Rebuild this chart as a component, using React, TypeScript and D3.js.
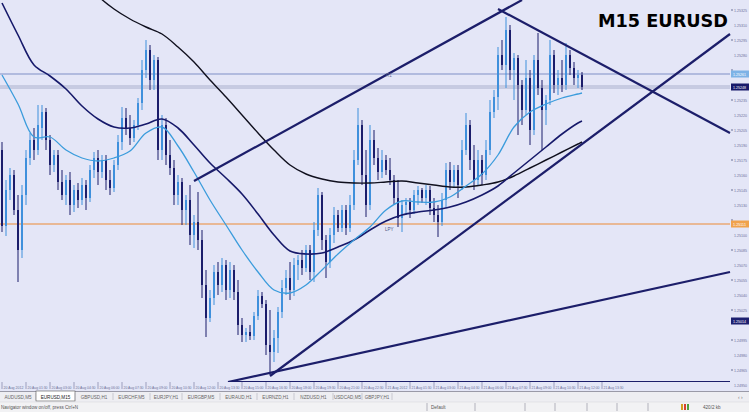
import React from "react";
import * as d3 from "d3";

// ---- EURUSD M15 candles (prices) ----
const opens = [1.25185,1.25109,1.25145,1.25160,1.25125,1.25085,1.25140,1.25177,1.25195,1.25185,1.25207,1.25223,1.25195,1.25170,1.25180,1.25153,1.25140,1.25155,1.25130,1.25145,1.25135,1.25150,1.25137,1.25165,1.25177,
1.25163,1.25175,1.25155,1.25147,1.25170,1.25193,1.25217,1.25207,1.25197,1.25210,1.25232,1.25265,1.25285,1.25255,1.25275,1.25185,1.25210,1.25180,1.25167,1.25140,1.25153,1.25125,1.25135,1.25100,1.25113,
1.25095,1.25050,1.25017,1.25037,1.25063,1.25050,1.25070,1.25045,1.25065,1.25043,1.25010,1.25000,1.25003,1.24999,1.25019,1.25039,1.25031,1.24990,1.24983,1.24997,1.25023,1.25047,1.25057,1.25045,1.25070,
1.25075,1.25067,1.25085,1.25063,1.25105,1.25140,1.25095,1.25073,1.25100,1.25120,1.25107,1.25125,1.25107,1.25130,1.25175,1.25210,1.25160,1.25130,1.25195,1.25177,1.25163,1.25175,1.25165,1.25155,1.25137,
1.25117,1.25130,1.25133,1.25125,1.25140,1.25145,1.25137,1.25145,1.25127,1.25120,1.25113,1.25135,1.25165,1.25153,1.25165,1.25150,1.25185,1.25210,1.25175,1.25155,1.25175,1.25160,1.25185,1.25223,1.25238,
1.25280,1.25270,1.25305,1.25265,1.25277,1.25250,1.25225,1.25257,1.25205,1.25275,1.25247,1.25225,1.25235,1.25280,1.25250,1.25257,1.25250,1.25280,1.25267,1.25257,1.25260];
const highs = [1.25193,1.25155,1.25167,1.25165,1.25140,1.25150,1.25185,1.25202,1.25207,1.25230,1.25230,1.25227,1.25200,1.25185,1.25185,1.25165,1.25160,1.25163,1.25150,1.25152,1.25157,1.25155,1.25170,1.25183,1.25185,
1.25180,1.25180,1.25165,1.25175,1.25200,1.25228,1.25227,1.25220,1.25215,1.25237,1.25275,1.25295,1.25290,1.25280,1.25278,1.25220,1.25217,1.25195,1.25175,1.25160,1.25157,1.25140,1.25150,1.25120,1.25143,
1.25105,1.25065,1.25045,1.25070,1.25073,1.25077,1.25075,1.25073,1.25070,1.25055,1.25017,1.25007,1.25010,1.25023,1.25045,1.25043,1.25035,1.25025,1.25005,1.25028,1.25055,1.25065,1.25073,1.25077,1.25080,
1.25085,1.25090,1.25090,1.25113,1.25147,1.25143,1.25100,1.25107,1.25128,1.25125,1.25130,1.25130,1.25140,1.25185,1.25227,1.25215,1.25185,1.25210,1.25205,1.25187,1.25185,1.25180,1.25177,1.25160,1.25155,
1.25135,1.25137,1.25137,1.25145,1.25149,1.25147,1.25150,1.25149,1.25137,1.25130,1.25142,1.25172,1.25173,1.25170,1.25170,1.25195,1.25222,1.25215,1.25190,1.25185,1.25180,1.25195,1.25235,1.25245,1.25288,
1.25295,1.25318,1.25310,1.25282,1.25280,1.25255,1.25275,1.25265,1.25280,1.25302,1.25255,1.25240,1.25295,1.25285,1.25265,1.25275,1.25292,1.25285,1.25273,1.25265,1.25263];
const lows = [1.25103,1.25099,1.25135,1.25120,1.25053,1.25077,1.25130,1.25170,1.25175,1.25180,1.25195,1.25185,1.25160,1.25163,1.25145,1.25135,1.25130,1.25120,1.25123,1.25127,1.25130,1.25125,1.25133,1.25157,1.25150,
1.25157,1.25145,1.25140,1.25143,1.25165,1.25185,1.25200,1.25190,1.25193,1.25205,1.25225,1.25257,1.25245,1.25245,1.25175,1.25175,1.25170,1.25160,1.25130,1.25130,1.25110,1.25110,1.25090,1.25087,1.25085,
1.25037,1.24998,1.25013,1.25030,1.25040,1.25043,1.25035,1.25037,1.25035,1.25000,1.24993,1.24993,1.24995,1.24995,1.25015,1.25027,1.24980,1.24960,1.24973,1.24982,1.25017,1.25040,1.25035,1.25039,1.25055,
1.25060,1.25063,1.25055,1.25053,1.25099,1.25085,1.25057,1.25067,1.25092,1.25103,1.25103,1.25100,1.25103,1.25125,1.25170,1.25150,1.25118,1.25125,1.25170,1.25155,1.25157,1.25160,1.25150,1.25130,1.25108,
1.25103,1.25120,1.25117,1.25121,1.25130,1.25132,1.25130,1.25120,1.25113,1.25098,1.25109,1.25127,1.25145,1.25147,1.25137,1.25145,1.25180,1.25165,1.25145,1.25150,1.25150,1.25155,1.25180,1.25217,1.25225,
1.25265,1.25247,1.25255,1.25235,1.25200,1.25210,1.25220,1.25190,1.25200,1.25240,1.25185,1.25210,1.25230,1.25242,1.25240,1.25243,1.25245,1.25260,1.25250,1.25247,1.25245];
const closes = [1.25109,1.25145,1.25160,1.25125,1.25085,1.25140,1.25177,1.25195,1.25185,1.25210,1.25223,1.25195,1.25170,1.25180,1.25153,1.25140,1.25155,1.25130,1.25145,1.25135,1.25150,1.25137,1.25165,1.25177,1.25163,
1.25175,1.25155,1.25147,1.25170,1.25193,1.25217,1.25207,1.25197,1.25210,1.25232,1.25265,1.25285,1.25255,1.25275,1.25185,1.25210,1.25180,1.25167,1.25140,1.25153,1.25125,1.25135,1.25100,1.25113,1.25095,
1.25050,1.25017,1.25037,1.25063,1.25050,1.25070,1.25045,1.25065,1.25043,1.25010,1.25000,1.25003,1.24999,1.25019,1.25039,1.25031,1.24990,1.24983,1.24997,1.25023,1.25047,1.25057,1.25045,1.25070,1.25075,
1.25067,1.25085,1.25063,1.25105,1.25140,1.25095,1.25073,1.25100,1.25120,1.25107,1.25125,1.25107,1.25130,1.25175,1.25210,1.25160,1.25130,1.25195,1.25177,1.25163,1.25175,1.25165,1.25155,1.25137,1.25117,
1.25130,1.25133,1.25125,1.25140,1.25145,1.25137,1.25145,1.25127,1.25120,1.25113,1.25135,1.25165,1.25153,1.25165,1.25150,1.25185,1.25210,1.25175,1.25155,1.25175,1.25160,1.25185,1.25223,1.25238,1.25280,
1.25270,1.25305,1.25265,1.25277,1.25250,1.25225,1.25257,1.25205,1.25275,1.25247,1.25225,1.25235,1.25280,1.25250,1.25257,1.25250,1.25280,1.25267,1.25257,1.25260,1.25248];

// ---- moving averages (bar index, price) ----
const maIdx = [0,4,8,12,16,20,24,28,32,36,40,44,48,52,56,60,64,68,72,76,80,84,88,92,96,100,104,108,112,116,120,124,128,132,136,140,144,145];
const maFast = [1.25260,1.25231,1.25198,1.25198,1.25185,1.25177,1.25174,1.25177,1.25184,1.25202,1.25208,1.25189,1.25163,1.25135,1.25110,1.25085,1.25063,1.25045,1.25042,1.25050,1.25065,1.25081,1.25095,1.25108,1.25125,1.25134,1.25133,1.25133,1.25138,1.25149,1.25161,1.25180,1.25208,1.25223,1.25231,1.25237,1.25241,1.25242];
const maMid = [1.25332,1.25300,1.25270,1.25259,1.25246,1.25229,1.25216,1.25208,1.25207,1.25211,1.25216,1.25207,1.25190,1.25172,1.25157,1.25141,1.25121,1.25100,1.25084,1.25081,1.25082,1.25088,1.25095,1.25105,1.25114,1.25120,1.25123,1.25125,1.25128,1.25133,1.25140,1.25149,1.25162,1.25175,1.25188,1.25201,1.25212,1.25214];
const slowIdx = [20,24,28,32,36,40,44,48,52,56,60,64,68,72,76,80,84,88,92,96,100,104,108,112,116,120,124,128,132,136,140,144,145];
const maSlow = [1.25357,1.25339,1.25326,1.25316,1.25308,1.25301,1.25288,1.25273,1.25255,1.25238,1.25220,1.25202,1.25185,1.25170,1.25161,1.25156,1.25153,1.25152,1.25152,1.25153,1.25154,1.25152,1.25150,1.25148,1.25148,1.25150,1.25153,1.25159,1.25167,1.25175,1.25183,1.25191,1.25193];

// ---- trend lines (bar index / price) ----
const trendStartIdx = [48, 124, 67, 56.5];
const trendStartPrice = [1.25154, 1.25326, 1.24959, 1.24953];
const trendEndIdx = [130, 182, 182, 182];
const trendEndPrice = [1.25335, 1.25202, 1.25301, 1.25063];

// ---- horizontal levels ----
const levelPrices = [1.25261, 1.25249, 1.25247, 1.25111];
const levelColors = ["#7f8fc6", "#9aa1c2", "#9aa1c2", "#ec8a34"];
const levelWidths = [1, 0.8, 0.8, 1];

// ---- axis tick labels ----
const priceTicks = [1.25325,1.25310,1.25295,1.25280,1.25265,1.25250,1.25235,1.25220,1.25205,1.25190,1.25175,1.25160,1.25145,1.25130,1.25115,1.25100,1.25085,1.25070,1.25055,1.25040,1.25025,1.25010,1.24995,1.24980,1.24965,1.24950];
const timeLabels = ["20 Aug 2012","20 Aug 01:30","20 Aug 03:00","20 Aug 04:30","20 Aug 06:00","20 Aug 07:30","20 Aug 09:00","20 Aug 10:30","20 Aug 12:00","20 Aug 13:30","20 Aug 15:00","20 Aug 16:30","20 Aug 18:00","20 Aug 19:30","20 Aug 21:00","20 Aug 22:30","21 Aug 2012","21 Aug 01:30","21 Aug 03:00","21 Aug 04:30","21 Aug 06:00","21 Aug 07:30","21 Aug 09:00","21 Aug 10:30","21 Aug 12:00","21 Aug 13:30"];
const timeLabelIdx = [0,6,12,18,24,30,36,42,48,54,60,66,72,78,84,90,96,102,108,114,120,126,132,138,144,150];

// price boxes on the axis
const boxPrices = [1.25261, 1.25248, 1.25111, 1.25014];
const boxColors = ["#7db2e6", "#17196b", "#f0a24c", "#1d2070"];

const tabNames = ["AUDUSD,M5","EURUSD,M15","GBPUSD,H1","EURCHF,M5","EURJPY,H1","EURGBP,M5","EURAUD,H1","EURNZD,H1","NZDUSD,H1","USDCAD,M5","GBPJPY,H1"];
const tabEdges = [0,36,75,113,150,182,220,257,294,333,362,392];
const statusEdges = [427,475,525,555,587,617,648];

const BG = "#e4e6f7";
const BULL = "#3f90dc";
const BEAR = "#1b1d6b";

export default function App() {
  const x = d3.scaleLinear().domain([0, 182]).range([2, 730]);
  const y = d3.scaleLinear().domain([1.24953, 1.25335]).range([382, 0]);
  const line = d3
    .line<[number, number]>()
    .x((d) => x(d[0]))
    .y((d) => y(d[1]))
    .curve(d3.curveCatmullRom.alpha(0.5));

  const fastPts = maIdx.map((i, k) => [i, maFast[k]] as [number, number]);
  const midPts = maIdx.map((i, k) => [i, maMid[k]] as [number, number]);
  const slowPts = slowIdx.map((i, k) => [i, maSlow[k]] as [number, number]);

  const font = "'Liberation Sans', Arial, sans-serif";
  const axisCol = "#6b7098";
  const nearBox = (p: number) => boxPrices.some((b) => Math.abs(y(b) - y(p)) < 7);

  return (
    <svg width={749} height={412} style={{ position: "fixed", left: 0, top: 0, display: "block" }}>
      <defs>
        <clipPath id="plot">
          <rect x={0} y={0} width={731} height={382} />
        </clipPath>
      </defs>
      <rect x={0} y={0} width={749} height={392} fill={BG} />

      <g clipPath="url(#plot)">
        {levelPrices.map((p, k) => (
          <line key={"lv" + k} x1={0} x2={730} y1={y(p)} y2={y(p)} stroke={levelColors[k]} strokeWidth={levelWidths[k]} />
        ))}
        {opens.map((o, i) => {
          const c = closes[i];
          const up = c >= o;
          const col = up ? BULL : BEAR;
          const cx = x(i);
          const top = y(Math.max(o, c));
          const bot = y(Math.min(o, c));
          return (
            <g key={"c" + i}>
              <line x1={cx} x2={cx} y1={y(highs[i])} y2={y(lows[i])} stroke={col} strokeWidth={1} />
              <rect x={cx - 1} y={top} width={2} height={Math.max(1, bot - top)} fill={col} />
            </g>
          );
        })}
        <path d={line(slowPts) || ""} fill="none" stroke="#10101e" strokeWidth={1.4} />
        <path d={line(midPts) || ""} fill="none" stroke="#16196a" strokeWidth={1.6} />
        <path d={line(fastPts) || ""} fill="none" stroke="#3b9cdc" strokeWidth={1.3} />
        {trendStartIdx.map((s, k) => (
          <line
            key={"tl" + k}
            x1={x(s)}
            y1={y(trendStartPrice[k])}
            x2={x(trendEndIdx[k])}
            y2={y(trendEndPrice[k])}
            stroke="#1c1e6a"
            strokeWidth={2.2}
          />
        ))}
        <line x1={x(56.5)} x2={730} y1={381.5} y2={381.5} stroke="#1c1e6a" strokeWidth={1.2} />
        <text x={386} y={77} fontSize={4.5} fill="#6a6f95" fontFamily={font}>R1</text>
        <text x={385} y={231} fontSize={4.5} fill="#4d5280" fontFamily={font}>LPY</text>
      </g>

      <text x={598} y={27} fontSize={17.5} fontWeight="bold" fill="#000" fontFamily="'DejaVu Sans', sans-serif" textLength={130} lengthAdjust="spacingAndGlyphs">
        M15 EURUSD
      </text>

      {/* price axis */}
      {priceTicks.map((p, k) => (
        <g key={"pt" + k}>
          {k % 2 === 0 && <line x1={731} x2={733} y1={y(p)} y2={y(p)} stroke={axisCol} strokeWidth={1} />}
          {!nearBox(p) && (
            <text x={734} y={y(p) + 1.6} fontSize={4.4} fill={axisCol} fontFamily={font} textLength={13} lengthAdjust="spacingAndGlyphs">
              {p.toFixed(5)}
            </text>
          )}
        </g>
      ))}
      {boxPrices.map((p, k) => (
        <g key={"bx" + k}>
          <rect x={731} y={y(p) - 3.5} width={18} height={7} fill={boxColors[k]} />
          <text x={733} y={y(p) + 1.6} fontSize={4.4} fill="#ffffff" fontFamily={font} textLength={13} lengthAdjust="spacingAndGlyphs">
            {p.toFixed(5)}
          </text>
        </g>
      ))}

      {/* time axis */}
      {timeLabels.map((t, k) => (
        <g key={"tm" + k}>
          <line x1={x(timeLabelIdx[k])} x2={x(timeLabelIdx[k])} y1={382} y2={389} stroke={axisCol} strokeWidth={0.6} />
          <text x={x(timeLabelIdx[k]) + 1.5} y={388.5} fontSize={4.3} fill={axisCol} fontFamily={font} textLength={20} lengthAdjust="spacingAndGlyphs">
            {t}
          </text>
        </g>
      ))}

      {/* tab bar */}
      <rect x={0} y={391} width={749} height={11} fill="#eeeef2" />
      <line x1={0} x2={749} y1={391.5} y2={391.5} stroke="#9a9aa8" strokeWidth={1} />
      {tabNames.map((t, k) => (
        <g key={"tab" + k}>
          {k === 1 && <rect x={tabEdges[k]} y={391} width={tabEdges[k + 1] - tabEdges[k]} height={10} fill="#ffffff" stroke="#555" strokeWidth={0.6} />}
          <line x1={tabEdges[k + 1]} x2={tabEdges[k + 1]} y1={393} y2={400} stroke="#b0b0b8" strokeWidth={0.6} />
          <text x={(tabEdges[k] + tabEdges[k + 1]) / 2} y={398.5} textAnchor="middle" fontSize={4.6} fill={k === 1 ? "#222" : "#666"} fontFamily={font}>
            {t}
          </text>
        </g>
      ))}
      <text x={738} y={398.5} fontSize={5} fill="#777" fontFamily={font}>‹ ›</text>

      {/* status bar */}
      <rect x={0} y={402} width={749} height={10} fill="#f2f2f4" />
      <line x1={0} x2={749} y1={402} y2={402} stroke="#d8d8de" strokeWidth={0.6} />
      <text x={1} y={408.5} fontSize={4.6} fill="#555" fontFamily={font}>Navigator window on/off, press Ctrl+N</text>
      {statusEdges.map((e, k) => (
        <line key={"se" + k} x1={e} x2={e} y1={403} y2={411} stroke="#9a9aa4" strokeWidth={0.7} />
      ))}
      <text x={431} y={408.5} fontSize={4.6} fill="#555" fontFamily={font}>Default</text>
      <rect x={681} y={404} width={2} height={6} fill="#d2a020" />
      <rect x={684} y={404} width={2} height={6} fill="#d84030" />
      <rect x={687} y={404} width={2} height={6} fill="#50a040" />
      <text x={703} y={408.5} fontSize={4.6} fill="#555" fontFamily={font}>420/2 kb</text>
    </svg>
  );
}
